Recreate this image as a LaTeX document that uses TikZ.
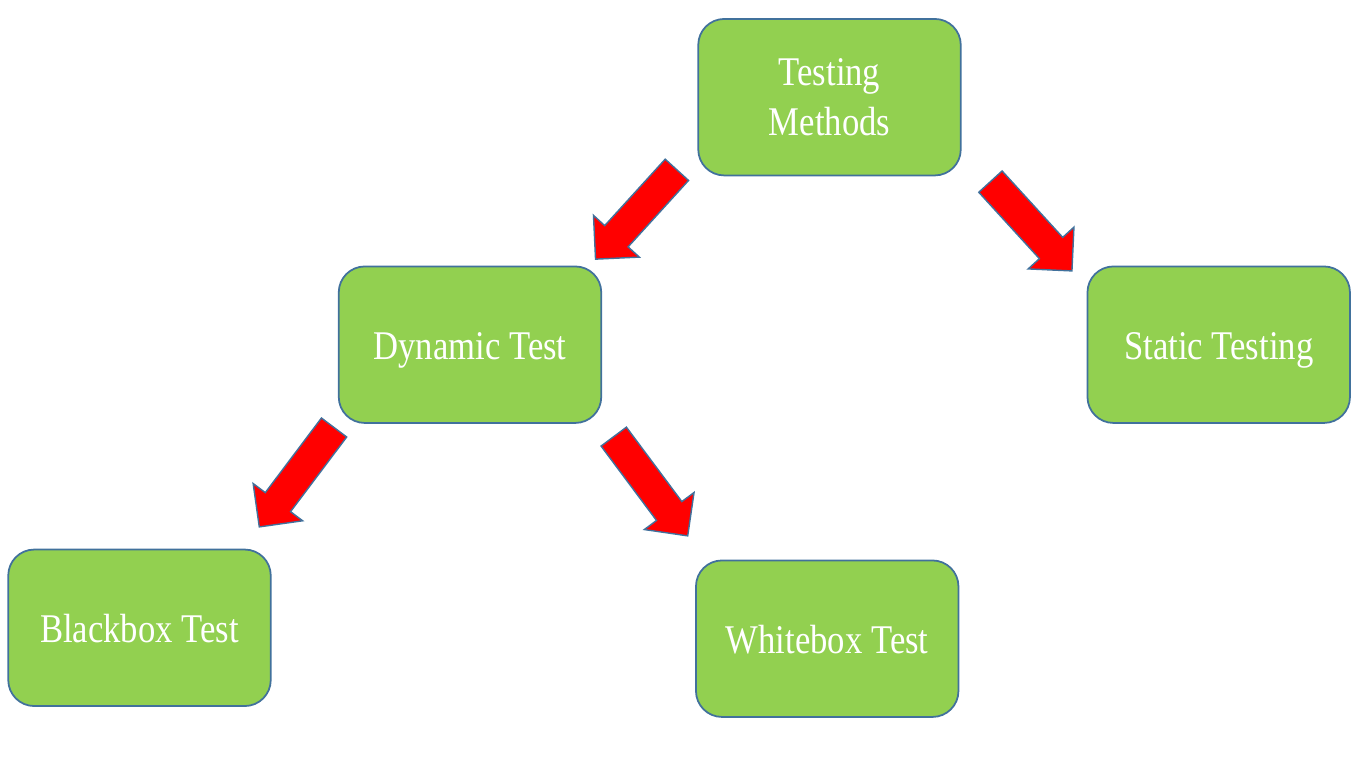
\documentclass[tikz,border=0pt]{standalone}
\usepackage{fontspec}
\setmainfont{Liberation Serif}[FakeStretch=0.85]
\usetikzlibrary{calc}
\definecolor{boxgreen}{HTML}{92D050}
\definecolor{boxedge}{HTML}{41719C}
\definecolor{arrowred}{HTML}{FF0000}

\begin{document}
\begin{tikzpicture}[
    method/.style={draw=boxedge, line width=0.5pt, fill=boxgreen, rounded corners=0.26cm,
      minimum width=2.625cm, minimum height=1.565cm, text=white, align=center,
      font=\fontsize{11.6}{14.4}\selectfont},
    oneline/.style={method, text height=0.29cm, text depth=0cm},
    blockarrow/.style={fill=arrowred, draw=boxedge, line width=0.4pt,
      to path={let \p1=(\tikztostart), \p2=(\tikztotarget),
        \n1={atan2(\y2-\y1,\x2-\x1)}, \n2={veclen(\x2-\x1,\y2-\y1)} in
        ([shift={(\p1)},rotate=\n1]0cm,0.158cm)
        -- ([shift={(\p1)},rotate=\n1]\n2-0.31cm,0.158cm)
        -- ([shift={(\p1)},rotate=\n1]\n2-0.31cm,0.31cm)
        -- ([shift={(\p1)},rotate=\n1]\n2,0cm)
        -- ([shift={(\p1)},rotate=\n1]\n2-0.31cm,-0.31cm)
        -- ([shift={(\p1)},rotate=\n1]\n2-0.31cm,-0.158cm)
        -- ([shift={(\p1)},rotate=\n1]0cm,-0.158cm) -- cycle}}
  ]
  \useasboundingbox (0,0) rectangle (13.66,7.68);

  \node[method, text depth=0cm] (testing) at (8.295,6.708) {Testing\\Methods};
  \node[oneline] (dynamic) at (4.70,4.233) {Dynamic Test};
  \node[oneline] (static) at (12.187,4.233) {Static Testing};
  \node[oneline] (blackbox) at (1.395,1.402) {Blackbox Test};
  \node[oneline] (whitebox) at (8.272,1.293) {Whitebox Test};

  \coordinate (t1) at ($(testing.south west)+(-0.205,0.065)$);
  \coordinate (h1) at ($(dynamic.north east)+(-0.067,0.063)$);
  \coordinate (t2) at ($(testing.south east)+(0.288,-0.053)$);
  \coordinate (h2) at ($(static.north west)+(-0.146,-0.054)$);
  \coordinate (t3) at ($(dynamic.south west)+(-0.038,-0.037)$);
  \coordinate (h3) at ($(blackbox.north east)+(-0.124,0.217)$);
  \coordinate (t4) at ($(dynamic.south east)+(0.116,-0.128)$);
  \coordinate (h4) at ($(whitebox.north west)+(-0.073,0.236)$);

  \draw[blockarrow] (t1) to (h1);
  \draw[blockarrow] (t2) to (h2);
  \draw[blockarrow] (t3) to (h3);
  \draw[blockarrow] (t4) to (h4);
\end{tikzpicture}
\end{document}
